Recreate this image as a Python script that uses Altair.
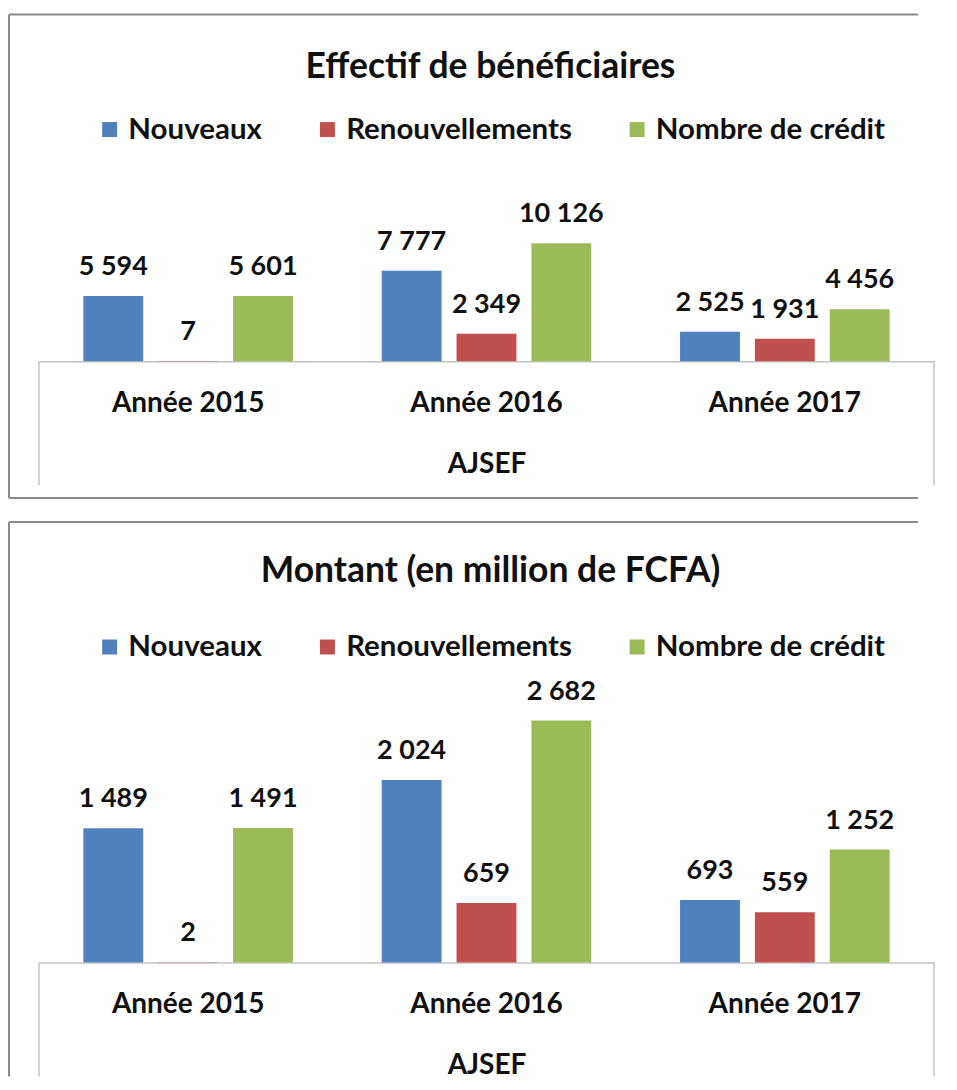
import altair as alt
import pandas as pd

years = ["Année 2015", "Année 2016", "Année 2017"]
series = ["Nouveaux", "Renouvellements", "Nombre de crédit"]
colors = ["#4F81BD", "#C0504D", "#9BBB59"]

eff_nouveaux = [5594, 7777, 2525]
eff_renouv = [7, 2349, 1931]
eff_credit = [5601, 10126, 4456]

mnt_nouveaux = [1489, 2024, 693]
mnt_renouv = [2, 659, 559]
mnt_credit = [1491, 2682, 1252]


def make_df(a, b, c):
    rows = []
    for s, vals in zip(series, [a, b, c]):
        for yr, v in zip(years, vals):
            rows.append({"year": yr, "series": s, "value": v,
                         "label": f"{v:,}".replace(",", " ")})
    return pd.DataFrame(rows)


FONT = "Lato"
TXT = "#111111"
OUT = "#8a8a8a"
INNER = "#c4c4c4"
W = 896
RIGHT = 880


def one():
    return alt.Chart(pd.DataFrame({"k": [0]}))


def hline(color, width, x1, x2, yv):
    return one().mark_rule(color=color, strokeWidth=width).encode(
        x=alt.value(x1), x2=alt.value(x2), y=alt.value(yv))


def vline(color, width, xv, y1, y2):
    return one().mark_rule(color=color, strokeWidth=width).encode(
        x=alt.value(xv), y=alt.value(y1), y2=alt.value(y2))


def panel(df, title, ymax, h, frame_top, frame_bottom, inner_bottom,
          title_y, legend_y, draw_bottom):
    base = alt.Chart(df)
    x = alt.X("year:N", sort=years,
              scale=alt.Scale(paddingInner=0, paddingOuter=0),
              axis=alt.Axis(title="AJSEF", ticks=False, domainColor=INNER,
                            domainWidth=1.5, labelAngle=0,
                            labelFont=FONT, labelFontSize=28,
                            labelFontWeight="bold", labelColor=TXT,
                            labelPadding=28, titleFont=FONT,
                            titleFontSize=28, titleFontWeight="bold",
                            titleColor=TXT, titlePadding=33))
    xo = alt.XOffset("series:N", sort=series,
                     scale=alt.Scale(paddingInner=0.2, paddingOuter=0.593))
    y = alt.Y("value:Q", axis=None, scale=alt.Scale(domain=[0, ymax]))
    bars = base.mark_bar().encode(
        x=x, xOffset=xo, y=y,
        color=alt.Color("series:N", sort=series,
                        scale=alt.Scale(domain=series, range=colors),
                        legend=alt.Legend(title=None, orient="none",
                                          legendX=56, legendY=legend_y,
                                          direction="horizontal", columns=3,
                                          symbolType="square", symbolSize=225,
                                          symbolStrokeWidth=0, symbolOpacity=1,
                                          labelFont=FONT, labelFontSize=29.5,
                                          labelFontWeight="bold",
                                          labelColor=TXT, labelOffset=4,
                                          columnPadding=50, labelLimit=400)))
    labels = base.mark_text(font=FONT, fontSize=27, fontWeight="bold",
                            color=TXT, baseline="alphabetic", dy=-21).encode(
        x=x, xOffset=xo, y=y, text="label:N")

    layers = [bars, labels,
              hline(OUT, 2, -30, RIGHT, frame_top),
              vline(OUT, 2, -30, frame_top, frame_bottom)]
    if draw_bottom:
        layers.append(hline(OUT, 2, -30, RIGHT, frame_bottom))
    layers.append(vline(INNER, 1.5, 0, h, inner_bottom))
    layers.append(vline(INNER, 1.5, W, h, inner_bottom))
    # invisible spacer keeping the chart's right edge past the frame lines
    layers.append(one().mark_point(opacity=0).encode(
        x=alt.value(908), y=alt.value(0)))
    layers.append(one().mark_text(
        text=title, font=FONT, fontSize=35.5, fontWeight="bold", color=TXT,
        baseline="middle", align="center").encode(
        x=alt.value(452), y=alt.value(title_y)))
    return alt.layer(*layers).properties(width=W, height=h)


top = panel(make_df(eff_nouveaux, eff_renouv, eff_credit),
            "Effectif de bénéficiaires", 17250, 201,
            frame_top=-146, frame_bottom=338, inner_bottom=325,
            title_y=-93, legend_y=-46, draw_bottom=True)
bottom = panel(make_df(mnt_nouveaux, mnt_renouv, mnt_credit),
               "Montant (en million de FCFA)", 3300, 298,
               frame_top=-143, frame_bottom=412, inner_bottom=412,
               title_y=-94, legend_y=-33, draw_bottom=False)

chart = alt.vconcat(top, bottom, spacing=22).resolve_scale(
    color="independent", x="independent", y="independent",
    xOffset="independent").resolve_legend(color="independent").properties(
    padding={"left": 0, "top": 5, "right": 0, "bottom": 0},
    background="white").configure_view(stroke=None)

chart.save("out.html", embed_options={"renderer": "svg", "actions": False})
